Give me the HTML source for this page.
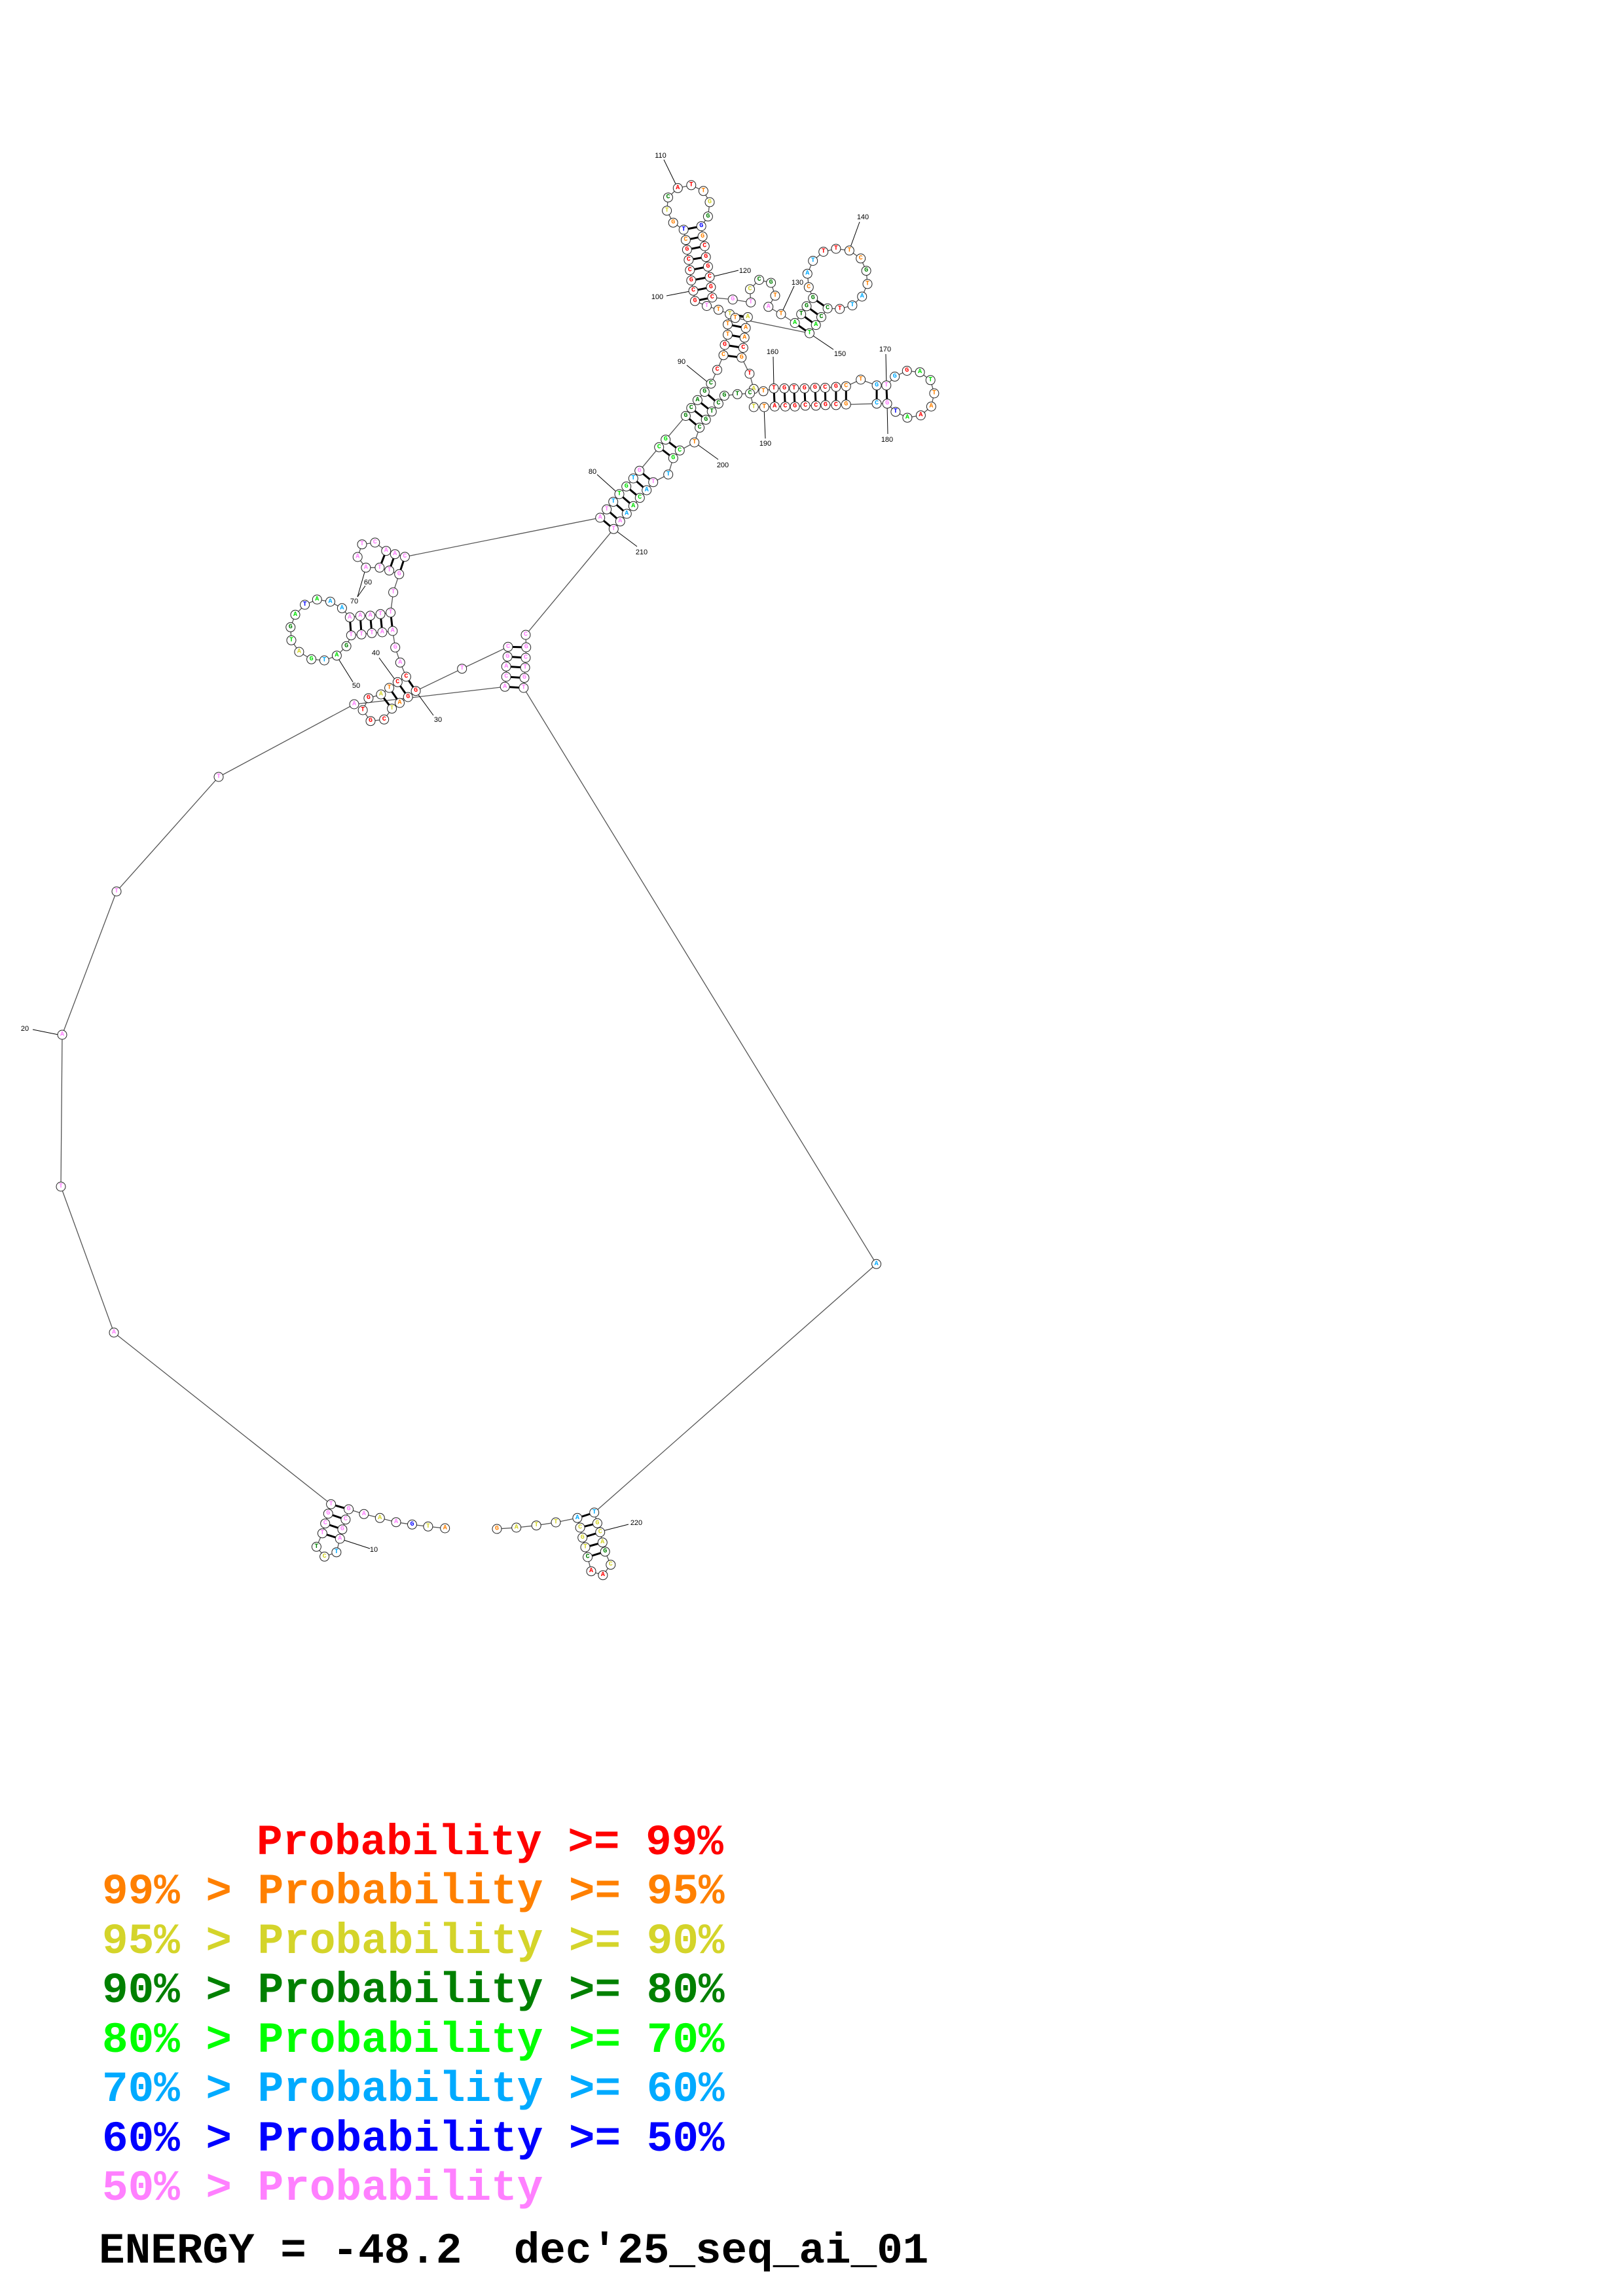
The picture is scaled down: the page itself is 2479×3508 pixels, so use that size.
<!DOCTYPE html>
<html><head><meta charset="utf-8"><style>
html,body{margin:0;padding:0;background:#fff}
svg{display:block}
.bb{fill:none;stroke:#555;stroke-width:1.3}
.pr{stroke:#000;stroke-width:3}
.ll{stroke:#000;stroke-width:1}
circle{fill:#fff;stroke:#222;stroke-width:1}
.n{font-family:"Liberation Mono",monospace;font-weight:bold;font-size:10px;text-anchor:middle;dominant-baseline:central}
.lb{font-family:"Liberation Sans",sans-serif;font-size:11px;text-anchor:middle;dominant-baseline:central;fill:#000}
.lg{font-family:"Liberation Mono",monospace;font-weight:bold;font-size:66px;white-space:pre}
.r{fill:#ff0000}.o{fill:#ff8000}.y{fill:#d4d42a}.d{fill:#008000}.g{fill:#00e000}.c{fill:#00aaff}.b{fill:#0000ff}.p{fill:#ff80ff}
</style></head><body>
<svg width="2479" height="3508" viewBox="0 0 2479 3508" xmlns="http://www.w3.org/2000/svg">
<polyline class="bb" points="679.7,2335 653.9,2332.3 629.5,2329.3 605,2325.7 580.3,2319.3 555.9,2313.3 532.6,2306 527.9,2321.7 522.9,2336.7 519.3,2351 513.9,2371.7 495.6,2378.3 483.4,2363.3 492.4,2342.7 496.7,2327.7 501.3,2312.7 505.6,2298.3 174,2036 93,1813 95,1581 178,1362 334,1187 541,1076 771.2,1049.3 773.2,1034 773.2,1018.3 775.2,1003.3 776,988.3 705.7,1021.7 635.1,1055.7 623.2,1065 610.5,1074 598.6,1082.7 586.7,1099.3 566,1101.7 554.1,1085 562.9,1066.7 581.9,1061 594.6,1051 607.3,1042.3 620.4,1034 611.3,1012.3 603.7,989.3 599.8,964 583.9,966 568,967.3 552.1,969.3 536.3,970.7 529.1,987.3 514.4,1001.7 495.4,1009 475.6,1007.3 456.9,996 445,978.3 443.8,958.3 451,939.3 465.6,924 484.3,916 504.5,919.3 522.4,929.3 534.3,943.3 550.2,941 565.6,940.7 581.1,938.3 596.6,936 600.6,905 609.7,877.3 594.6,871.7 579.9,867.3 558.9,867.3 546.2,851 553,831.7 572.8,829 589.8,841.7 603.3,846.7 618.4,850.7 916.7,791 926.7,778.3 936.7,766.7 946,755 956.7,743.3 967.3,731 976.7,719.3 1006.7,683.3 1016.7,671.7 1047.4,635.5 1055.8,623.4 1065.4,611.3 1076.3,598.7 1085.9,586.2 1095.5,565.1 1105,542.7 1107,527 1111.5,511.4 1111.5,495.7 1114.7,480 1097.4,473.3 1079.5,467.5 1061.5,459.9 1059,444.2 1055.8,428.5 1053.8,412.8 1051.9,397.1 1049.4,381.5 1047.4,366.7 1044.2,351 1028.2,340.2 1018.6,321.9 1020.5,301.7 1035.3,287.4 1055.8,282.9 1074.4,291.8 1084,308.9 1081.4,330.8 1071.2,345.6 1073.1,361.3 1076.3,376.1 1078.2,392.7 1081.4,407.4 1084,423.1 1085.9,438.8 1087.8,454.5 1119.2,457.6 1146.8,462.1 1145.5,441.9 1159.6,427.6 1177.6,432.1 1184,451.8 1173.7,468.8 1193,480 1214.1,493.5 1223.7,480 1232,467.9 1241.7,455.4 1235.3,438.8 1233.3,418.2 1241.7,398.5 1257.7,384.6 1276.9,380.1 1297.4,382.8 1314.7,394.9 1323.1,413.7 1325,433.9 1316.7,453.1 1301.9,466.6 1282.7,472 1264.1,471.1 1254.5,484.5 1246.2,496.6 1236.5,509.1 1123,485.8 1142.3,484.5 1139.1,501.1 1137.2,515.9 1135.3,531.5 1132.7,546.3 1144.9,571 1151.3,594.3 1166,597.8 1182,593.4 1198,593.4 1212.8,593.4 1228.8,593.4 1244.9,592.5 1260.3,592.5 1276.9,591.1 1292.3,590.2 1314.7,580 1339.1,588.9 1353.8,588.9 1366.7,575.4 1385.3,566.5 1405.1,568.7 1421.2,580.8 1426.9,601 1422.4,621.1 1406.4,634.6 1385.9,638.2 1367.9,629.2 1355.1,616.7 1339.1,616.7 1292.3,618 1276.9,618.9 1260.9,618.9 1246.2,619.8 1230.1,619.8 1214.1,621.1 1199.4,621.1 1183.3,621.1 1167.3,622 1151.3,622 1145.5,601 1126.3,602.3 1106.4,604.6 1097.4,616.7 1087.2,628.8 1078.2,641.3 1068.6,653.4 1060.7,676 1038.3,688.3 1028.3,700 1020.7,725 997.7,736.7 987.7,749 977.3,760.7 967.3,773.3 957.3,785 947.3,796.7 937.3,808.3 803,970 803.7,989 803,1005 802.1,1020 801,1035.7 799.8,1051 1338.6,1931.3 907.7,2311 912.4,2327.3 916.7,2341 920.3,2356.7 924.2,2370.7 932.8,2390.7 920.9,2406.7 903,2400.7 897.6,2379 894,2364 889.7,2349.3 886.1,2334 881.9,2319.3 849,2326 819.2,2330.7 788.7,2334 759,2336"/>
<g class="pr">
<line x1="505.6" y1="2298.3" x2="532.6" y2="2306"/><line x1="501.3" y1="2312.7" x2="527.9" y2="2321.7"/><line x1="496.7" y1="2327.7" x2="522.9" y2="2336.7"/><line x1="492.4" y1="2342.7" x2="519.3" y2="2351"/>
<line x1="771.2" y1="1049.3" x2="799.8" y2="1051"/><line x1="773.2" y1="1034" x2="801" y2="1035.7"/><line x1="773.2" y1="1018.3" x2="802.1" y2="1020"/><line x1="775.2" y1="1003.3" x2="803" y2="1005"/><line x1="776" y1="988.3" x2="803.7" y2="989"/>
<line x1="635.1" y1="1055.7" x2="620.4" y2="1034"/><line x1="623.2" y1="1065" x2="607.3" y2="1042.3"/><line x1="610.5" y1="1074" x2="594.6" y2="1051"/><line x1="598.6" y1="1082.7" x2="581.9" y2="1061"/>
<line x1="534.3" y1="943.3" x2="536.3" y2="970.7"/><line x1="550.2" y1="941" x2="552.1" y2="969.3"/><line x1="565.6" y1="940.7" x2="568" y2="967.3"/><line x1="581.1" y1="938.3" x2="583.9" y2="966"/><line x1="596.6" y1="936" x2="599.8" y2="964"/>
<line x1="579.9" y1="867.3" x2="589.8" y2="841.7"/><line x1="594.6" y1="871.7" x2="603.3" y2="846.7"/><line x1="609.7" y1="877.3" x2="618.4" y2="850.7"/>
<line x1="916.7" y1="791" x2="937.3" y2="808.3"/><line x1="926.7" y1="778.3" x2="947.3" y2="796.7"/><line x1="936.7" y1="766.7" x2="957.3" y2="785"/><line x1="946" y1="755" x2="967.3" y2="773.3"/><line x1="956.7" y1="743.3" x2="977.3" y2="760.7"/><line x1="967.3" y1="731" x2="987.7" y2="749"/><line x1="976.7" y1="719.3" x2="997.7" y2="736.7"/>
<line x1="1006.7" y1="683.3" x2="1028.3" y2="700"/><line x1="1016.7" y1="671.7" x2="1038.3" y2="688.3"/>
<line x1="1047.4" y1="635.5" x2="1068.6" y2="653.4"/><line x1="1055.8" y1="623.4" x2="1078.2" y2="641.3"/><line x1="1065.4" y1="611.3" x2="1087.2" y2="628.8"/><line x1="1076.3" y1="598.7" x2="1097.4" y2="616.7"/>
<line x1="1114.7" y1="480" x2="1142.3" y2="484.5"/><line x1="1111.5" y1="495.7" x2="1139.1" y2="501.1"/><line x1="1111.5" y1="511.4" x2="1137.2" y2="515.9"/><line x1="1107" y1="527" x2="1135.3" y2="531.5"/><line x1="1105" y1="542.7" x2="1132.7" y2="546.3"/>
<line x1="1061.5" y1="459.9" x2="1087.8" y2="454.5"/><line x1="1059" y1="444.2" x2="1085.9" y2="438.8"/><line x1="1055.8" y1="428.5" x2="1084" y2="423.1"/><line x1="1053.8" y1="412.8" x2="1081.4" y2="407.4"/><line x1="1051.9" y1="397.1" x2="1078.2" y2="392.7"/><line x1="1049.4" y1="381.5" x2="1076.3" y2="376.1"/><line x1="1047.4" y1="366.7" x2="1073.1" y2="361.3"/><line x1="1044.2" y1="351" x2="1071.2" y2="345.6"/>
<line x1="1223.7" y1="480" x2="1246.2" y2="496.6"/><line x1="1232" y1="467.9" x2="1254.5" y2="484.5"/><line x1="1241.7" y1="455.4" x2="1264.1" y2="471.1"/><line x1="1214.1" y1="493.5" x2="1236.5" y2="509.1"/>
<line x1="1182" y1="593.4" x2="1183.3" y2="621.1"/><line x1="1198" y1="593.4" x2="1199.4" y2="621.1"/><line x1="1212.8" y1="593.4" x2="1214.1" y2="621.1"/><line x1="1228.8" y1="593.4" x2="1230.1" y2="619.8"/><line x1="1244.9" y1="592.5" x2="1246.2" y2="619.8"/><line x1="1260.3" y1="592.5" x2="1260.9" y2="618.9"/><line x1="1276.9" y1="591.1" x2="1276.9" y2="618.9"/><line x1="1292.3" y1="590.2" x2="1292.3" y2="618"/><line x1="1339.1" y1="588.9" x2="1339.1" y2="616.7"/><line x1="1353.8" y1="588.9" x2="1355.1" y2="616.7"/>
<line x1="907.7" y1="2311" x2="881.9" y2="2319.3"/><line x1="912.4" y1="2327.3" x2="886.1" y2="2334"/><line x1="916.7" y1="2341" x2="889.7" y2="2349.3"/><line x1="920.3" y1="2356.7" x2="894" y2="2364"/><line x1="924.2" y1="2370.7" x2="897.6" y2="2379"/>
</g>
<g class="ll">
<line x1="519" y1="2351" x2="565" y2="2366"/><line x1="50" y1="1573" x2="94.6" y2="1582"/><line x1="635" y1="1056" x2="662" y2="1093"/><line x1="579" y1="1005" x2="606" y2="1042"/><line x1="514" y1="1002" x2="539" y2="1042"/><line x1="559" y1="867" x2="546" y2="912"/><line x1="546" y1="912" x2="558" y2="895"/><line x1="912" y1="725" x2="942" y2="752"/><line x1="1049" y1="558" x2="1081" y2="584"/><line x1="1018" y1="452" x2="1059" y2="444"/><line x1="1014" y1="244" x2="1033" y2="283"/><line x1="1087" y1="423" x2="1128" y2="413"/><line x1="1193" y1="480" x2="1213" y2="437"/><line x1="1297" y1="383" x2="1313" y2="339"/><line x1="1236" y1="509" x2="1273" y2="534"/><line x1="1182" y1="593" x2="1181" y2="545"/><line x1="1354" y1="589" x2="1353" y2="541"/><line x1="1355" y1="617" x2="1356" y2="663"/><line x1="1167" y1="622" x2="1169" y2="670"/><line x1="1061" y1="676" x2="1097" y2="702"/><line x1="937" y1="808" x2="973" y2="835"/><line x1="917" y1="2340" x2="960" y2="2329"/>
</g>
<g class="lb">
<text x="571" y="2368">10</text><text x="38" y="1572">20</text><text x="669" y="1100">30</text><text x="574" y="998">40</text><text x="544" y="1048">50</text><text x="562" y="890">60</text><text x="541" y="919">70</text><text x="905" y="721">80</text><text x="1041" y="553">90</text><text x="1004" y="454">100</text><text x="1009" y="238">110</text><text x="1138" y="414">120</text><text x="1218" y="432">130</text><text x="1318" y="332">140</text><text x="1283" y="541">150</text><text x="1180" y="538">160</text><text x="1352" y="534">170</text><text x="1355" y="672">180</text><text x="1169" y="678">190</text><text x="1104" y="711">200</text><text x="980" y="844">210</text><text x="972" y="2327">220</text>
</g>
<g id="nodes">
<circle cx="679.7" cy="2335" r="7"/><text class="n o" x="679.7" y="2335">A</text>
<circle cx="653.9" cy="2332.3" r="7"/><text class="n y" x="653.9" y="2332.3">T</text>
<circle cx="629.5" cy="2329.3" r="7"/><text class="n b" x="629.5" y="2329.3">G</text>
<circle cx="605" cy="2325.7" r="7"/><text class="n p" x="605" y="2325.7">A</text>
<circle cx="580.3" cy="2319.3" r="7"/><text class="n y" x="580.3" y="2319.3">A</text>
<circle cx="555.9" cy="2313.3" r="7"/><text class="n p" x="555.9" y="2313.3">A</text>
<circle cx="532.6" cy="2306" r="7"/><text class="n p" x="532.6" y="2306">G</text>
<circle cx="527.9" cy="2321.7" r="7"/><text class="n p" x="527.9" y="2321.7">C</text>
<circle cx="522.9" cy="2336.7" r="7"/><text class="n p" x="522.9" y="2336.7">G</text>
<circle cx="519.3" cy="2351" r="7"/><text class="n p" x="519.3" y="2351">A</text>
<circle cx="513.9" cy="2371.7" r="7"/><text class="n c" x="513.9" y="2371.7">T</text>
<circle cx="495.6" cy="2378.3" r="7"/><text class="n y" x="495.6" y="2378.3">C</text>
<circle cx="483.4" cy="2363.3" r="7"/><text class="n d" x="483.4" y="2363.3">T</text>
<circle cx="492.4" cy="2342.7" r="7"/><text class="n p" x="492.4" y="2342.7">T</text>
<circle cx="496.7" cy="2327.7" r="7"/><text class="n p" x="496.7" y="2327.7">C</text>
<circle cx="501.3" cy="2312.7" r="7"/><text class="n p" x="501.3" y="2312.7">G</text>
<circle cx="505.6" cy="2298.3" r="7"/><text class="n p" x="505.6" y="2298.3">T</text>
<circle cx="174" cy="2036" r="7"/><text class="n p" x="174" y="2036">A</text>
<circle cx="93" cy="1813" r="7"/><text class="n p" x="93" y="1813">T</text>
<circle cx="95" cy="1581" r="7"/><text class="n p" x="95" y="1581">A</text>
<circle cx="178" cy="1362" r="7"/><text class="n p" x="178" y="1362">T</text>
<circle cx="334" cy="1187" r="7"/><text class="n p" x="334" y="1187">T</text>
<circle cx="541" cy="1076" r="7"/><text class="n p" x="541" y="1076">A</text>
<circle cx="771.2" cy="1049.3" r="7"/><text class="n p" x="771.2" y="1049.3">A</text>
<circle cx="773.2" cy="1034" r="7"/><text class="n p" x="773.2" y="1034">C</text>
<circle cx="773.2" cy="1018.3" r="7"/><text class="n p" x="773.2" y="1018.3">A</text>
<circle cx="775.2" cy="1003.3" r="7"/><text class="n p" x="775.2" y="1003.3">G</text>
<circle cx="776" cy="988.3" r="7"/><text class="n p" x="776" y="988.3">C</text>
<circle cx="705.7" cy="1021.7" r="7"/><text class="n p" x="705.7" y="1021.7">T</text>
<circle cx="635.1" cy="1055.7" r="7"/><text class="n r" x="635.1" y="1055.7">G</text>
<circle cx="623.2" cy="1065" r="7"/><text class="n r" x="623.2" y="1065">G</text>
<circle cx="610.5" cy="1074" r="7"/><text class="n o" x="610.5" y="1074">A</text>
<circle cx="598.6" cy="1082.7" r="7"/><text class="n y" x="598.6" y="1082.7">T</text>
<circle cx="586.7" cy="1099.3" r="7"/><text class="n r" x="586.7" y="1099.3">C</text>
<circle cx="566" cy="1101.7" r="7"/><text class="n r" x="566" y="1101.7">G</text>
<circle cx="554.1" cy="1085" r="7"/><text class="n r" x="554.1" y="1085">T</text>
<circle cx="562.9" cy="1066.7" r="7"/><text class="n r" x="562.9" y="1066.7">G</text>
<circle cx="581.9" cy="1061" r="7"/><text class="n y" x="581.9" y="1061">A</text>
<circle cx="594.6" cy="1051" r="7"/><text class="n o" x="594.6" y="1051">T</text>
<circle cx="607.3" cy="1042.3" r="7"/><text class="n r" x="607.3" y="1042.3">C</text>
<circle cx="620.4" cy="1034" r="7"/><text class="n r" x="620.4" y="1034">C</text>
<circle cx="611.3" cy="1012.3" r="7"/><text class="n p" x="611.3" y="1012.3">A</text>
<circle cx="603.7" cy="989.3" r="7"/><text class="n p" x="603.7" y="989.3">G</text>
<circle cx="599.8" cy="964" r="7"/><text class="n p" x="599.8" y="964">A</text>
<circle cx="583.9" cy="966" r="7"/><text class="n p" x="583.9" y="966">A</text>
<circle cx="568" cy="967.3" r="7"/><text class="n p" x="568" y="967.3">T</text>
<circle cx="552.1" cy="969.3" r="7"/><text class="n p" x="552.1" y="969.3">T</text>
<circle cx="536.3" cy="970.7" r="7"/><text class="n p" x="536.3" y="970.7">T</text>
<circle cx="529.1" cy="987.3" r="7"/><text class="n d" x="529.1" y="987.3">G</text>
<circle cx="514.4" cy="1001.7" r="7"/><text class="n g" x="514.4" y="1001.7">A</text>
<circle cx="495.4" cy="1009" r="7"/><text class="n c" x="495.4" y="1009">T</text>
<circle cx="475.6" cy="1007.3" r="7"/><text class="n g" x="475.6" y="1007.3">G</text>
<circle cx="456.9" cy="996" r="7"/><text class="n y" x="456.9" y="996">A</text>
<circle cx="445" cy="978.3" r="7"/><text class="n g" x="445" y="978.3">T</text>
<circle cx="443.8" cy="958.3" r="7"/><text class="n d" x="443.8" y="958.3">G</text>
<circle cx="451" cy="939.3" r="7"/><text class="n g" x="451" y="939.3">A</text>
<circle cx="465.6" cy="924" r="7"/><text class="n b" x="465.6" y="924">T</text>
<circle cx="484.3" cy="916" r="7"/><text class="n g" x="484.3" y="916">A</text>
<circle cx="504.5" cy="919.3" r="7"/><text class="n c" x="504.5" y="919.3">A</text>
<circle cx="522.4" cy="929.3" r="7"/><text class="n c" x="522.4" y="929.3">A</text>
<circle cx="534.3" cy="943.3" r="7"/><text class="n p" x="534.3" y="943.3">A</text>
<circle cx="550.2" cy="941" r="7"/><text class="n p" x="550.2" y="941">A</text>
<circle cx="565.6" cy="940.7" r="7"/><text class="n p" x="565.6" y="940.7">A</text>
<circle cx="581.1" cy="938.3" r="7"/><text class="n p" x="581.1" y="938.3">T</text>
<circle cx="596.6" cy="936" r="7"/><text class="n p" x="596.6" y="936">T</text>
<circle cx="600.6" cy="905" r="7"/><text class="n p" x="600.6" y="905">T</text>
<circle cx="609.7" cy="877.3" r="7"/><text class="n p" x="609.7" y="877.3">G</text>
<circle cx="594.6" cy="871.7" r="7"/><text class="n p" x="594.6" y="871.7">T</text>
<circle cx="579.9" cy="867.3" r="7"/><text class="n p" x="579.9" y="867.3">T</text>
<circle cx="558.9" cy="867.3" r="7"/><text class="n p" x="558.9" y="867.3">A</text>
<circle cx="546.2" cy="851" r="7"/><text class="n p" x="546.2" y="851">A</text>
<circle cx="553" cy="831.7" r="7"/><text class="n p" x="553" y="831.7">T</text>
<circle cx="572.8" cy="829" r="7"/><text class="n p" x="572.8" y="829">C</text>
<circle cx="589.8" cy="841.7" r="7"/><text class="n p" x="589.8" y="841.7">A</text>
<circle cx="603.3" cy="846.7" r="7"/><text class="n p" x="603.3" y="846.7">A</text>
<circle cx="618.4" cy="850.7" r="7"/><text class="n p" x="618.4" y="850.7">C</text>
<circle cx="916.7" cy="791" r="7"/><text class="n p" x="916.7" y="791">A</text>
<circle cx="926.7" cy="778.3" r="7"/><text class="n p" x="926.7" y="778.3">T</text>
<circle cx="936.7" cy="766.7" r="7"/><text class="n c" x="936.7" y="766.7">T</text>
<circle cx="946" cy="755" r="7"/><text class="n g" x="946" y="755">T</text>
<circle cx="956.7" cy="743.3" r="7"/><text class="n g" x="956.7" y="743.3">G</text>
<circle cx="967.3" cy="731" r="7"/><text class="n c" x="967.3" y="731">T</text>
<circle cx="976.7" cy="719.3" r="7"/><text class="n p" x="976.7" y="719.3">G</text>
<circle cx="1006.7" cy="683.3" r="7"/><text class="n g" x="1006.7" y="683.3">C</text>
<circle cx="1016.7" cy="671.7" r="7"/><text class="n g" x="1016.7" y="671.7">G</text>
<circle cx="1047.4" cy="635.5" r="7"/><text class="n d" x="1047.4" y="635.5">G</text>
<circle cx="1055.8" cy="623.4" r="7"/><text class="n d" x="1055.8" y="623.4">C</text>
<circle cx="1065.4" cy="611.3" r="7"/><text class="n d" x="1065.4" y="611.3">A</text>
<circle cx="1076.3" cy="598.7" r="7"/><text class="n d" x="1076.3" y="598.7">G</text>
<circle cx="1085.9" cy="586.2" r="7"/><text class="n d" x="1085.9" y="586.2">C</text>
<circle cx="1095.5" cy="565.1" r="7"/><text class="n r" x="1095.5" y="565.1">C</text>
<circle cx="1105" cy="542.7" r="7"/><text class="n o" x="1105" y="542.7">C</text>
<circle cx="1107" cy="527" r="7"/><text class="n r" x="1107" y="527">G</text>
<circle cx="1111.5" cy="511.4" r="7"/><text class="n o" x="1111.5" y="511.4">T</text>
<circle cx="1111.5" cy="495.7" r="7"/><text class="n o" x="1111.5" y="495.7">T</text>
<circle cx="1114.7" cy="480" r="7"/><text class="n y" x="1114.7" y="480">T</text>
<circle cx="1097.4" cy="473.3" r="7"/><text class="n o" x="1097.4" y="473.3">T</text>
<circle cx="1079.5" cy="467.5" r="7"/><text class="n p" x="1079.5" y="467.5">T</text>
<circle cx="1061.5" cy="459.9" r="7"/><text class="n r" x="1061.5" y="459.9">G</text>
<circle cx="1059" cy="444.2" r="7"/><text class="n r" x="1059" y="444.2">C</text>
<circle cx="1055.8" cy="428.5" r="7"/><text class="n r" x="1055.8" y="428.5">G</text>
<circle cx="1053.8" cy="412.8" r="7"/><text class="n r" x="1053.8" y="412.8">C</text>
<circle cx="1051.9" cy="397.1" r="7"/><text class="n r" x="1051.9" y="397.1">C</text>
<circle cx="1049.4" cy="381.5" r="7"/><text class="n r" x="1049.4" y="381.5">G</text>
<circle cx="1047.4" cy="366.7" r="7"/><text class="n o" x="1047.4" y="366.7">C</text>
<circle cx="1044.2" cy="351" r="7"/><text class="n b" x="1044.2" y="351">T</text>
<circle cx="1028.2" cy="340.2" r="7"/><text class="n o" x="1028.2" y="340.2">G</text>
<circle cx="1018.6" cy="321.9" r="7"/><text class="n y" x="1018.6" y="321.9">T</text>
<circle cx="1020.5" cy="301.7" r="7"/><text class="n d" x="1020.5" y="301.7">C</text>
<circle cx="1035.3" cy="287.4" r="7"/><text class="n r" x="1035.3" y="287.4">A</text>
<circle cx="1055.8" cy="282.9" r="7"/><text class="n r" x="1055.8" y="282.9">T</text>
<circle cx="1074.4" cy="291.8" r="7"/><text class="n o" x="1074.4" y="291.8">T</text>
<circle cx="1084" cy="308.9" r="7"/><text class="n y" x="1084" y="308.9">G</text>
<circle cx="1081.4" cy="330.8" r="7"/><text class="n d" x="1081.4" y="330.8">G</text>
<circle cx="1071.2" cy="345.6" r="7"/><text class="n b" x="1071.2" y="345.6">G</text>
<circle cx="1073.1" cy="361.3" r="7"/><text class="n o" x="1073.1" y="361.3">G</text>
<circle cx="1076.3" cy="376.1" r="7"/><text class="n r" x="1076.3" y="376.1">C</text>
<circle cx="1078.2" cy="392.7" r="7"/><text class="n r" x="1078.2" y="392.7">G</text>
<circle cx="1081.4" cy="407.4" r="7"/><text class="n r" x="1081.4" y="407.4">G</text>
<circle cx="1084" cy="423.1" r="7"/><text class="n r" x="1084" y="423.1">C</text>
<circle cx="1085.9" cy="438.8" r="7"/><text class="n r" x="1085.9" y="438.8">G</text>
<circle cx="1087.8" cy="454.5" r="7"/><text class="n r" x="1087.8" y="454.5">C</text>
<circle cx="1119.2" cy="457.6" r="7"/><text class="n p" x="1119.2" y="457.6">G</text>
<circle cx="1146.8" cy="462.1" r="7"/><text class="n p" x="1146.8" y="462.1">T</text>
<circle cx="1145.5" cy="441.9" r="7"/><text class="n y" x="1145.5" y="441.9">C</text>
<circle cx="1159.6" cy="427.6" r="7"/><text class="n d" x="1159.6" y="427.6">C</text>
<circle cx="1177.6" cy="432.1" r="7"/><text class="n d" x="1177.6" y="432.1">G</text>
<circle cx="1184" cy="451.8" r="7"/><text class="n o" x="1184" y="451.8">T</text>
<circle cx="1173.7" cy="468.8" r="7"/><text class="n p" x="1173.7" y="468.8">A</text>
<circle cx="1193" cy="480" r="7"/><text class="n o" x="1193" y="480">T</text>
<circle cx="1214.1" cy="493.5" r="7"/><text class="n g" x="1214.1" y="493.5">A</text>
<circle cx="1223.7" cy="480" r="7"/><text class="n d" x="1223.7" y="480">T</text>
<circle cx="1232" cy="467.9" r="7"/><text class="n d" x="1232" y="467.9">G</text>
<circle cx="1241.7" cy="455.4" r="7"/><text class="n d" x="1241.7" y="455.4">G</text>
<circle cx="1235.3" cy="438.8" r="7"/><text class="n o" x="1235.3" y="438.8">C</text>
<circle cx="1233.3" cy="418.2" r="7"/><text class="n c" x="1233.3" y="418.2">A</text>
<circle cx="1241.7" cy="398.5" r="7"/><text class="n c" x="1241.7" y="398.5">T</text>
<circle cx="1257.7" cy="384.6" r="7"/><text class="n r" x="1257.7" y="384.6">T</text>
<circle cx="1276.9" cy="380.1" r="7"/><text class="n r" x="1276.9" y="380.1">T</text>
<circle cx="1297.4" cy="382.8" r="7"/><text class="n o" x="1297.4" y="382.8">T</text>
<circle cx="1314.7" cy="394.9" r="7"/><text class="n o" x="1314.7" y="394.9">C</text>
<circle cx="1323.1" cy="413.7" r="7"/><text class="n d" x="1323.1" y="413.7">G</text>
<circle cx="1325" cy="433.9" r="7"/><text class="n o" x="1325" y="433.9">T</text>
<circle cx="1316.7" cy="453.1" r="7"/><text class="n c" x="1316.7" y="453.1">A</text>
<circle cx="1301.9" cy="466.6" r="7"/><text class="n c" x="1301.9" y="466.6">T</text>
<circle cx="1282.7" cy="472" r="7"/><text class="n r" x="1282.7" y="472">T</text>
<circle cx="1264.1" cy="471.1" r="7"/><text class="n d" x="1264.1" y="471.1">C</text>
<circle cx="1254.5" cy="484.5" r="7"/><text class="n d" x="1254.5" y="484.5">C</text>
<circle cx="1246.2" cy="496.6" r="7"/><text class="n g" x="1246.2" y="496.6">A</text>
<circle cx="1236.5" cy="509.1" r="7"/><text class="n g" x="1236.5" y="509.1">T</text>
<circle cx="1123" cy="485.8" r="7"/><text class="n o" x="1123" y="485.8">T</text>
<circle cx="1142.3" cy="484.5" r="7"/><text class="n y" x="1142.3" y="484.5">A</text>
<circle cx="1139.1" cy="501.1" r="7"/><text class="n o" x="1139.1" y="501.1">A</text>
<circle cx="1137.2" cy="515.9" r="7"/><text class="n o" x="1137.2" y="515.9">A</text>
<circle cx="1135.3" cy="531.5" r="7"/><text class="n r" x="1135.3" y="531.5">C</text>
<circle cx="1132.7" cy="546.3" r="7"/><text class="n o" x="1132.7" y="546.3">G</text>
<circle cx="1144.9" cy="571" r="7"/><text class="n r" x="1144.9" y="571">T</text>
<circle cx="1151.3" cy="594.3" r="7"/><text class="n y" x="1151.3" y="594.3">A</text>
<circle cx="1166" cy="597.8" r="7"/><text class="n o" x="1166" y="597.8">T</text>
<circle cx="1182" cy="593.4" r="7"/><text class="n r" x="1182" y="593.4">T</text>
<circle cx="1198" cy="593.4" r="7"/><text class="n r" x="1198" y="593.4">G</text>
<circle cx="1212.8" cy="593.4" r="7"/><text class="n r" x="1212.8" y="593.4">T</text>
<circle cx="1228.8" cy="593.4" r="7"/><text class="n r" x="1228.8" y="593.4">G</text>
<circle cx="1244.9" cy="592.5" r="7"/><text class="n r" x="1244.9" y="592.5">G</text>
<circle cx="1260.3" cy="592.5" r="7"/><text class="n r" x="1260.3" y="592.5">C</text>
<circle cx="1276.9" cy="591.1" r="7"/><text class="n r" x="1276.9" y="591.1">G</text>
<circle cx="1292.3" cy="590.2" r="7"/><text class="n o" x="1292.3" y="590.2">C</text>
<circle cx="1314.7" cy="580" r="7"/><text class="n o" x="1314.7" y="580">T</text>
<circle cx="1339.1" cy="588.9" r="7"/><text class="n c" x="1339.1" y="588.9">G</text>
<circle cx="1353.8" cy="588.9" r="7"/><text class="n p" x="1353.8" y="588.9">T</text>
<circle cx="1366.7" cy="575.4" r="7"/><text class="n c" x="1366.7" y="575.4">G</text>
<circle cx="1385.3" cy="566.5" r="7"/><text class="n r" x="1385.3" y="566.5">G</text>
<circle cx="1405.1" cy="568.7" r="7"/><text class="n g" x="1405.1" y="568.7">A</text>
<circle cx="1421.2" cy="580.8" r="7"/><text class="n g" x="1421.2" y="580.8">T</text>
<circle cx="1426.9" cy="601" r="7"/><text class="n o" x="1426.9" y="601">T</text>
<circle cx="1422.4" cy="621.1" r="7"/><text class="n o" x="1422.4" y="621.1">A</text>
<circle cx="1406.4" cy="634.6" r="7"/><text class="n r" x="1406.4" y="634.6">A</text>
<circle cx="1385.9" cy="638.2" r="7"/><text class="n g" x="1385.9" y="638.2">A</text>
<circle cx="1367.9" cy="629.2" r="7"/><text class="n b" x="1367.9" y="629.2">T</text>
<circle cx="1355.1" cy="616.7" r="7"/><text class="n p" x="1355.1" y="616.7">G</text>
<circle cx="1339.1" cy="616.7" r="7"/><text class="n c" x="1339.1" y="616.7">C</text>
<circle cx="1292.3" cy="618" r="7"/><text class="n o" x="1292.3" y="618">G</text>
<circle cx="1276.9" cy="618.9" r="7"/><text class="n r" x="1276.9" y="618.9">C</text>
<circle cx="1260.9" cy="618.9" r="7"/><text class="n r" x="1260.9" y="618.9">G</text>
<circle cx="1246.2" cy="619.8" r="7"/><text class="n r" x="1246.2" y="619.8">C</text>
<circle cx="1230.1" cy="619.8" r="7"/><text class="n r" x="1230.1" y="619.8">C</text>
<circle cx="1214.1" cy="621.1" r="7"/><text class="n r" x="1214.1" y="621.1">G</text>
<circle cx="1199.4" cy="621.1" r="7"/><text class="n r" x="1199.4" y="621.1">C</text>
<circle cx="1183.3" cy="621.1" r="7"/><text class="n r" x="1183.3" y="621.1">A</text>
<circle cx="1167.3" cy="622" r="7"/><text class="n o" x="1167.3" y="622">T</text>
<circle cx="1151.3" cy="622" r="7"/><text class="n y" x="1151.3" y="622">T</text>
<circle cx="1145.5" cy="601" r="7"/><text class="n d" x="1145.5" y="601">C</text>
<circle cx="1126.3" cy="602.3" r="7"/><text class="n d" x="1126.3" y="602.3">T</text>
<circle cx="1106.4" cy="604.6" r="7"/><text class="n d" x="1106.4" y="604.6">G</text>
<circle cx="1097.4" cy="616.7" r="7"/><text class="n d" x="1097.4" y="616.7">C</text>
<circle cx="1087.2" cy="628.8" r="7"/><text class="n d" x="1087.2" y="628.8">T</text>
<circle cx="1078.2" cy="641.3" r="7"/><text class="n d" x="1078.2" y="641.3">G</text>
<circle cx="1068.6" cy="653.4" r="7"/><text class="n d" x="1068.6" y="653.4">C</text>
<circle cx="1060.7" cy="676" r="7"/><text class="n o" x="1060.7" y="676">T</text>
<circle cx="1038.3" cy="688.3" r="7"/><text class="n g" x="1038.3" y="688.3">C</text>
<circle cx="1028.3" cy="700" r="7"/><text class="n g" x="1028.3" y="700">G</text>
<circle cx="1020.7" cy="725" r="7"/><text class="n c" x="1020.7" y="725">T</text>
<circle cx="997.7" cy="736.7" r="7"/><text class="n p" x="997.7" y="736.7">T</text>
<circle cx="987.7" cy="749" r="7"/><text class="n c" x="987.7" y="749">A</text>
<circle cx="977.3" cy="760.7" r="7"/><text class="n g" x="977.3" y="760.7">C</text>
<circle cx="967.3" cy="773.3" r="7"/><text class="n g" x="967.3" y="773.3">A</text>
<circle cx="957.3" cy="785" r="7"/><text class="n c" x="957.3" y="785">A</text>
<circle cx="947.3" cy="796.7" r="7"/><text class="n p" x="947.3" y="796.7">A</text>
<circle cx="937.3" cy="808.3" r="7"/><text class="n p" x="937.3" y="808.3">T</text>
<circle cx="803" cy="970" r="7"/><text class="n p" x="803" y="970">C</text>
<circle cx="803.7" cy="989" r="7"/><text class="n p" x="803.7" y="989">G</text>
<circle cx="803" cy="1005" r="7"/><text class="n p" x="803" y="1005">C</text>
<circle cx="802.1" cy="1020" r="7"/><text class="n p" x="802.1" y="1020">T</text>
<circle cx="801" cy="1035.7" r="7"/><text class="n p" x="801" y="1035.7">G</text>
<circle cx="799.8" cy="1051" r="7"/><text class="n p" x="799.8" y="1051">T</text>
<circle cx="1338.6" cy="1931.3" r="7"/><text class="n c" x="1338.6" y="1931.3">A</text>
<circle cx="907.7" cy="2311" r="7"/><text class="n c" x="907.7" y="2311">T</text>
<circle cx="912.4" cy="2327.3" r="7"/><text class="n y" x="912.4" y="2327.3">G</text>
<circle cx="916.7" cy="2341" r="7"/><text class="n y" x="916.7" y="2341">C</text>
<circle cx="920.3" cy="2356.7" r="7"/><text class="n y" x="920.3" y="2356.7">A</text>
<circle cx="924.2" cy="2370.7" r="7"/><text class="n d" x="924.2" y="2370.7">G</text>
<circle cx="932.8" cy="2390.7" r="7"/><text class="n y" x="932.8" y="2390.7">C</text>
<circle cx="920.9" cy="2406.7" r="7"/><text class="n r" x="920.9" y="2406.7">A</text>
<circle cx="903" cy="2400.7" r="7"/><text class="n r" x="903" y="2400.7">A</text>
<circle cx="897.6" cy="2379" r="7"/><text class="n d" x="897.6" y="2379">C</text>
<circle cx="894" cy="2364" r="7"/><text class="n y" x="894" y="2364">T</text>
<circle cx="889.7" cy="2349.3" r="7"/><text class="n y" x="889.7" y="2349.3">G</text>
<circle cx="886.1" cy="2334" r="7"/><text class="n y" x="886.1" y="2334">C</text>
<circle cx="881.9" cy="2319.3" r="7"/><text class="n c" x="881.9" y="2319.3">A</text>
<circle cx="849" cy="2326" r="7"/><text class="n y" x="849" y="2326">T</text>
<circle cx="819.2" cy="2330.7" r="7"/><text class="n y" x="819.2" y="2330.7">T</text>
<circle cx="788.7" cy="2334" r="7"/><text class="n y" x="788.7" y="2334">A</text>
<circle cx="759" cy="2336" r="7"/><text class="n o" x="759" y="2336">G</text>
</g>
<g class="lg">
<text x="392" y="2833" fill="#ff0000">Probability &gt;= 99%</text>
<text x="156" y="2908" fill="#ff8000">99% &gt; Probability &gt;= 95%</text>
<text x="156" y="2984" fill="#d4d42a">95% &gt; Probability &gt;= 90%</text>
<text x="156" y="3059" fill="#008000">90% &gt; Probability &gt;= 80%</text>
<text x="156" y="3135" fill="#00ff00">80% &gt; Probability &gt;= 70%</text>
<text x="156" y="3210" fill="#00aaff">70% &gt; Probability &gt;= 60%</text>
<text x="156" y="3286" fill="#0000ff">60% &gt; Probability &gt;= 50%</text>
<text x="156" y="3361" fill="#ff80ff">50% &gt; Probability</text>
<text x="151" y="3457" fill="#000">ENERGY = -48.2&#160;&#160;dec'25_seq_ai_01</text>
</g>
</svg>
</body></html>
